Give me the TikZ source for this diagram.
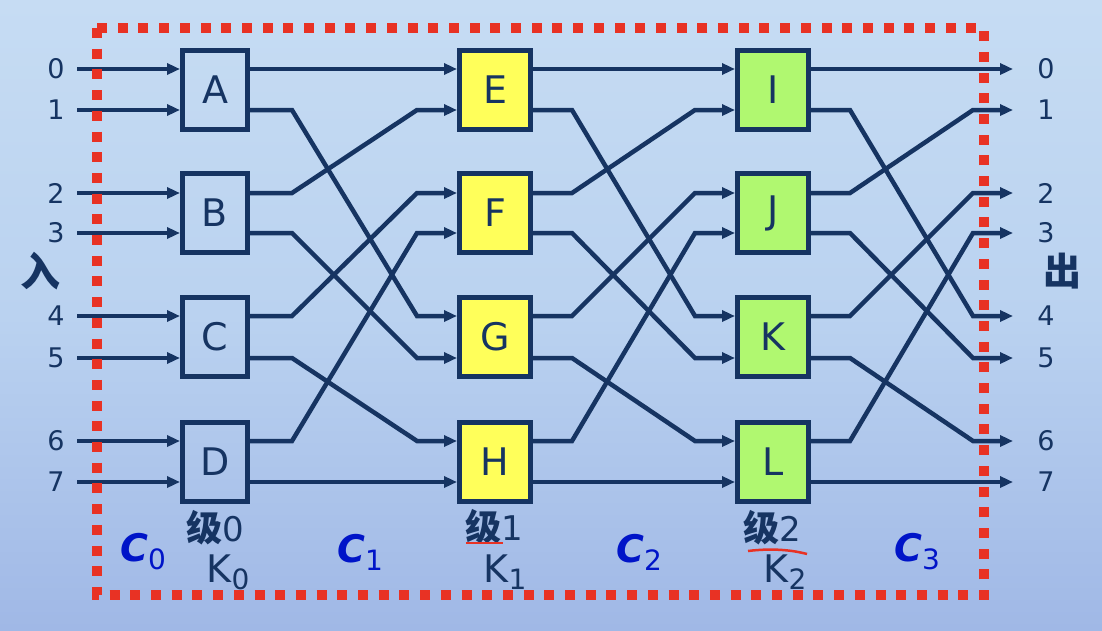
\documentclass[tikz,border=0pt]{standalone}
\usepackage{fontspec}
\setmainfont{DejaVu Sans}
\newfontfamily\cjk{Noto Sans CJK SC}
\usetikzlibrary{arrows.meta,calc}
\definecolor{navy}{RGB}{22,52,98}
\definecolor{boxyellow}{RGB}{255,255,90}
\definecolor{boxgreen}{RGB}{176,248,112}
\definecolor{dotred}{RGB}{232,50,36}
\definecolor{cblue}{RGB}{0,20,200}
\definecolor{bgtop}{RGB}{198,220,243}
\definecolor{bgmid}{RGB}{186,210,240}
\definecolor{bgbot}{RGB}{160,184,230}
\begin{document}
\begin{tikzpicture}[x=1pt,y=-1pt,
  wire/.style={draw=navy,line width=4.5pt,-{Triangle[length=13pt,width=11pt]}},
  sw/.style={draw=navy,line width=5pt,inner sep=0pt,minimum height=79pt,
    text=navy,font=\fontsize{38}{38}\selectfont},
  sbox0/.style={sw,minimum width=65pt},
  sbox1/.style={sw,minimum width=71pt,fill=boxyellow},
  sbox2/.style={sw,minimum width=71pt,fill=boxgreen},
  idx/.style={text=navy,inner sep=0pt,font=\fontsize{27}{27}\selectfont},
  cjklab/.style={text=navy,inner sep=0pt,font=\cjk\bfseries\fontsize{36}{36}\selectfont},
  klab/.style={text=navy,inner sep=0pt,font=\fontsize{38}{38}\selectfont},
  clab/.style={text=cblue,inner sep=0pt,font=\fontsize{38}{38}\selectfont},
  redline/.style={draw=dotred,line width=2.5pt},
  dotframe/.style={draw=dotred,line width=10pt,dash pattern=on 10pt off 10.7pt}
]
\useasboundingbox (0,0) rectangle (1102,630);
% background
\shade[top color=bgtop,bottom color=bgbot,middle color=bgmid] (0,0) rectangle (1102,630);

% rows
\foreach \r/\y in {0/69,1/110,2/193,3/233,4/316,5/358,6/441,7/482}{
  \coordinate (i\r) at (77,\y);
  \coordinate (o\r) at (1013,\y);
  \node[idx] (li\r) at (56,\y) {\r};
  \node[idx] (lo\r) at (1046,\y) {\r};
}

% boxes
\node[sbox0] (A) at (215,89.5) {A};
\node[sbox0] (B) at (215,213) {B};
\node[sbox0] (C) at (215,337) {C};
\node[sbox0] (D) at (215,461.5) {D};
\node[sbox1] (E) at (495,89.5) {E};
\node[sbox1] (F) at (495,213) {F};
\node[sbox1] (G) at (495,337) {G};
\node[sbox1] (H) at (495,461.5) {H};
\node[sbox2] (I) at (773,89.5) {I};
\node[sbox2] (J) at (773,213) {J};
\node[sbox2] (K) at (773,337) {K};
\node[sbox2] (L) at (773,461.5) {L};

% inputs
\foreach \r/\b in {0/A,1/A,2/B,3/B,4/C,5/C,6/D,7/D}{
  \draw[wire] (i\r) -- (\b.west|-i\r);
}
% stage 0 -> 1
\foreach \s/\d/\sb/\db in {0/0/A/E,1/4/A/G,2/1/B/E,3/5/B/G,4/2/C/F,5/6/C/H,6/3/D/F,7/7/D/H}{
  \draw[wire] (\sb.east|-i\s) -- ++(42,0) -- ($(\db.west|-i\d)+(-40,0)$) -- (\db.west|-i\d);
}
% stage 1 -> 2
\foreach \s/\d/\sb/\db in {0/0/E/I,1/4/E/K,2/1/F/I,3/5/F/K,4/2/G/J,5/6/G/L,6/3/H/J,7/7/H/L}{
  \draw[wire] (\sb.east|-i\s) -- ++(39,0) -- ($(\db.west|-i\d)+(-40,0)$) -- (\db.west|-i\d);
}
% stage 2 -> outputs
\foreach \s/\d/\sb in {0/0/I,1/4/I,2/1/J,3/5/J,4/2/K,5/6/K,6/3/L,7/7/L}{
  \draw[wire] (\sb.east|-i\s) -- ++(39,0) -- ($(o\d)+(-40,0)$) -- (o\d);
}

% frame
\draw[dotframe] (97,28) rectangle (984,595);

% side labels
\node[cjklab,font=\cjk\bfseries\fontsize{40}{40}\selectfont] (in) at (40,271) {入};
\node[cjklab,font=\cjk\bfseries\fontsize{38}{38}\selectfont] (out) at (1062,271) {出};

% stage labels
\node[cjklab] (s0) at (215,528) {级\normalfont\fontsize{34}{34}\selectfont 0};
\node[cjklab] (s1) at (494,527) {级\normalfont\fontsize{34}{34}\selectfont 1};
\node[cjklab] (s2) at (772,528) {级\normalfont\fontsize{34}{34}\selectfont 2};
\node[klab] (k0) at (228,572) {K\raisebox{-7pt}{\fontsize{28}{28}\selectfont 0}};
\node[klab] (k1) at (505,572) {K\raisebox{-7pt}{\fontsize{28}{28}\selectfont 1}};
\node[klab] (k2) at (785,572) {K\raisebox{-7pt}{\fontsize{28}{28}\selectfont 2}};
\draw[redline] (466,543) -- (503,543);
\draw[redline] (748,551) .. controls (772,548) and (792,550) .. (807,554);

% channel labels
\foreach \n/\x in {0/143,1/360,2/639,3/917}{
  \node[clab] (c\n) at (\x,552) {\textbf{\textit{C}}\raisebox{-8pt}{\fontsize{28}{28}\selectfont \n}};
}
\end{tikzpicture}
\end{document}
